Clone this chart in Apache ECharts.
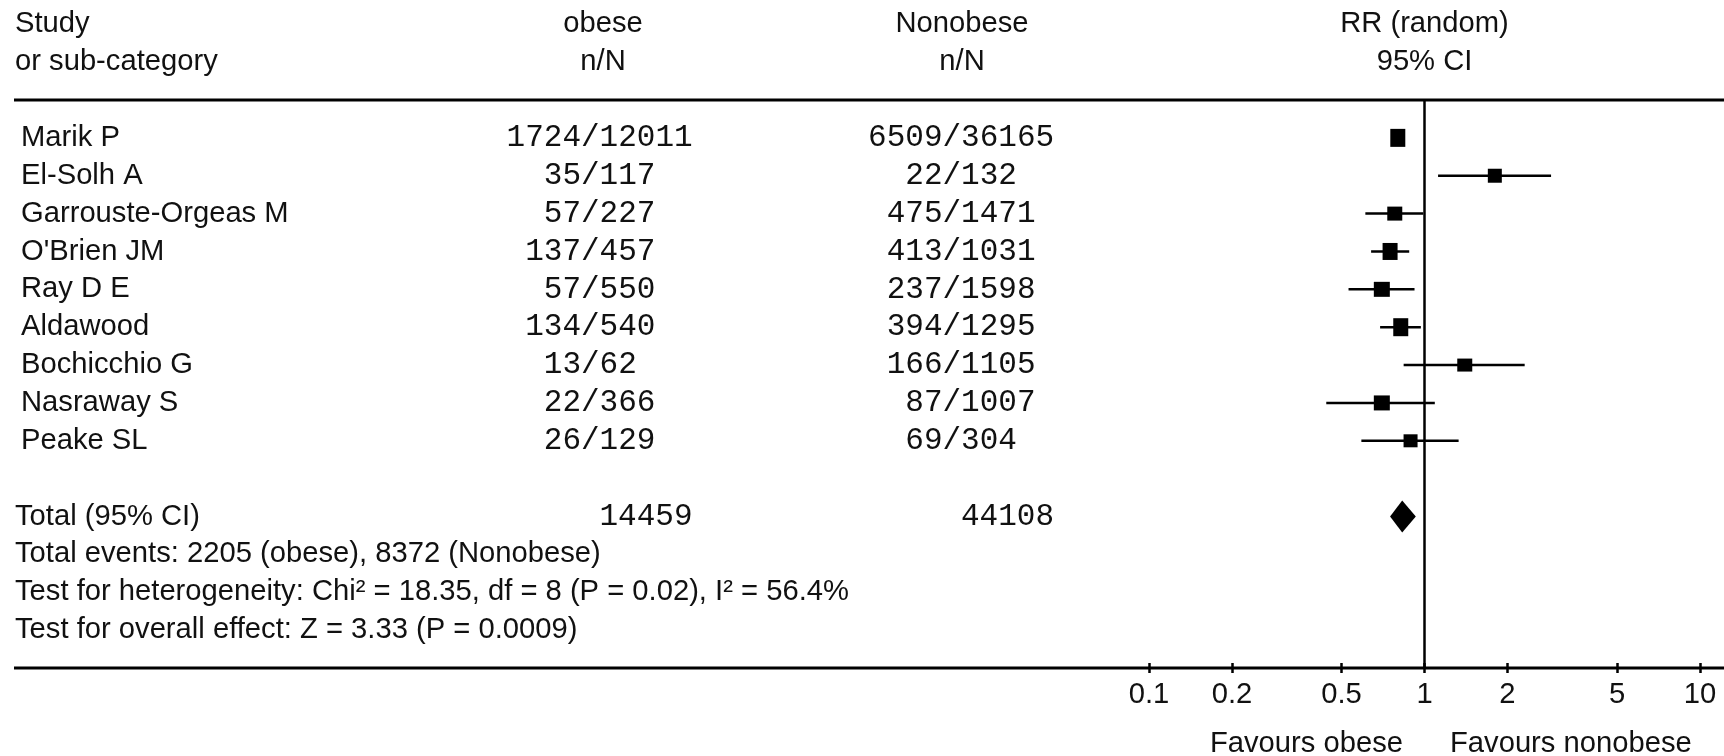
<!DOCTYPE html>
<html>
<head>
<meta charset="utf-8">
<script src="https://cdn.jsdelivr.net/npm/echarts@6/dist/echarts.min.js"></script>
<style>
  html, body { margin: 0; padding: 0; background: #fff; }
  #chart { width: 1724px; height: 756px; }
</style>
</head>
<body>
<div id="chart"></div>
<script>
// ---- data ----
const studies = ['Marik P', 'El-Solh A', 'Garrouste-Orgeas M', "O'Brien JM", 'Ray D E',
                 'Aldawood', 'Bochicchio G', 'Nasraway S', 'Peake SL'];
const obeseEvents    = [1724, 35, 57, 137, 57, 134, 13, 22, 26];
const obeseTotal     = [12011, 117, 227, 457, 550, 540, 62, 366, 129];
const nonobeseEvents = [6509, 22, 475, 413, 237, 394, 166, 87, 69];
const nonobeseTotal  = [36165, 132, 1471, 1031, 1598, 1295, 1105, 1007, 304];
const riskRatio = [0.80, 1.80, 0.78, 0.75, 0.70, 0.82, 1.40, 0.70, 0.89];
const ciLower   = [0.76, 1.12, 0.61, 0.64, 0.53, 0.69, 0.84, 0.44, 0.59];
const ciUpper   = [0.84, 2.88, 0.99, 0.88, 0.92, 0.97, 2.31, 1.09, 1.33];
const pooledRR = [0.83, 0.75, 0.93];          // estimate, lower, upper
const pooledTotals = [14459, 44108];           // obese, nonobese participants
const tickValues = [0.1, 0.2, 0.5, 1, 2, 5, 10];
const headerLeft = ['Study', 'or sub-category'];
const headerObese = ['obese', 'n/N'];
const headerNonobese = ['Nonobese', 'n/N'];
const headerEffect = ['RR (random)', '95% CI'];
const totalLabel = 'Total (95% CI)';
const summaryLines = [
  'Total events: 2205 (obese), 8372 (Nonobese)',
  'Test for heterogeneity: Chi\u00B2 = 18.35, df = 8 (P = 0.02), I\u00B2 = 56.4%',
  'Test for overall effect: Z = 3.33 (P = 0.0009)'
];
const favourLabels = ['Favours obese', 'Favours nonobese'];

// ---- layout / style ----
const SANS = "'Liberation Sans', Arial, sans-serif";
const MONO = "'Liberation Mono', 'Courier New', monospace";
const FS = 29.2;
const MONO_FS = 31;
const INK = '#111';
const BOX = [[15, 18], [14, 14], [15, 14], [15, 17], [16, 15], [15, 18], [15, 13], [16, 15], [14, 13]];
const DIAMOND_HALF_H = 16;
const COL = { name: 21, text: 15, obeseSlash: 581, obeseEnd: 692.5, nonSlash: 942.5, nonEnd: 1054,
              obeseHead: 603, nonHead: 962 };
const TOTAL_ROW = 10;

const chart = echarts.init(document.getElementById('chart'), null, { renderer: 'canvas' });

const studyData = studies.map((_, i) => [riskRatio[i], ciLower[i], ciUpper[i], i]);

const logAxis = (inside, labels) => ({
  type: 'log', logBase: 10, min: 0.1, max: 10, position: 'bottom',
  axisLine: { show: false, onZero: false },
  splitLine: { show: false },
  minorTick: { show: false },
  axisTick: { show: true, inside, length: 5, customValues: tickValues,
              lineStyle: { color: '#000', width: 2.5 } },
  axisLabel: labels
    ? { show: true, customValues: tickValues, margin: 12,
        fontFamily: SANS, fontSize: FS, color: INK,
        formatter: v => String(+v.toPrecision(3)) }
    : { show: false }
});

const option = {
  backgroundColor: '#fff',
  animation: false,
  grid: { left: 1149, right: 24, top: 100, bottom: 88, containLabel: false },
  xAxis: [logAxis(false, true), logAxis(true, false)],
  yAxis: {
    type: 'value', inverse: true, min: -1, max: 14, show: false
  },
  series: [
    {
      // line of no effect
      type: 'line', silent: true, symbol: 'none',
      data: [[1, -1], [1, 14]],
      lineStyle: { color: '#000', width: 2.5 }
    },
    {
      type: 'custom', silent: true,
      data: studyData,
      encode: { x: [0, 1, 2], y: 3 },
      renderItem: (params, api) => {
        const row = api.value(3);
        const c = api.coord([api.value(0), row]);
        const lo = api.coord([api.value(1), row]);
        const hi = api.coord([api.value(2), row]);
        const [w, h] = BOX[params.dataIndex];
        return {
          type: 'group',
          children: [
            { type: 'line', shape: { x1: lo[0], y1: c[1], x2: hi[0], y2: c[1] },
              style: { stroke: '#000', lineWidth: 2.5 } },
            { type: 'rect', shape: { x: c[0] - w / 2, y: c[1] - h / 2, width: w, height: h },
              style: { fill: '#000' } }
          ]
        };
      }
    },
    {
      type: 'custom', silent: true,
      data: [[pooledRR[0], pooledRR[1], pooledRR[2], TOTAL_ROW]],
      encode: { x: [0, 1, 2], y: 3 },
      renderItem: (params, api) => {
        const row = api.value(3);
        const c = api.coord([api.value(0), row]);
        const lo = api.coord([api.value(1), row]);
        const hi = api.coord([api.value(2), row]);
        return {
          type: 'polygon',
          shape: { points: [[lo[0], c[1]], [c[0], c[1] - DIAMOND_HALF_H],
                            [hi[0], c[1]], [c[0], c[1] + DIAMOND_HALF_H]] },
          style: { fill: '#000' }
        };
      }
    }
  ]
};
chart.setOption(option);

// ---- table text, placed on the shared row scale ----
const rowY = r => chart.convertToPixel({ yAxisIndex: 0 }, r);
const nullX = chart.convertToPixel({ xAxisIndex: 0 }, 1);
const txt = (text, x, y, align, font, size) => ({
  type: 'text', silent: true,
  style: { text, x, y, align: align || 'left', verticalAlign: 'middle',
           fontFamily: font || SANS, fontSize: size || FS, fill: INK }
});

const g = [];
headerLeft.forEach((t, i) => g.push(txt(t, COL.text, rowY(-3 + i))));
headerObese.forEach((t, i) => g.push(txt(t, COL.obeseHead, rowY(-3 + i), 'center')));
headerNonobese.forEach((t, i) => g.push(txt(t, COL.nonHead, rowY(-3 + i), 'center')));
headerEffect.forEach((t, i) => g.push(txt(t, nullX, rowY(-3 + i), 'center')));

studies.forEach((s, i) => {
  const y = rowY(i);
  g.push(txt(s, COL.name, y));
  g.push(txt(String(obeseEvents[i]), COL.obeseSlash, y, 'right', MONO, MONO_FS));
  g.push(txt('/' + obeseTotal[i], COL.obeseSlash, y, 'left', MONO, MONO_FS));
  g.push(txt(String(nonobeseEvents[i]), COL.nonSlash, y, 'right', MONO, MONO_FS));
  g.push(txt('/' + nonobeseTotal[i], COL.nonSlash, y, 'left', MONO, MONO_FS));
});

g.push(txt(totalLabel, COL.text, rowY(TOTAL_ROW)));
g.push(txt(String(pooledTotals[0]), COL.obeseEnd, rowY(TOTAL_ROW), 'right', MONO, MONO_FS));
g.push(txt(String(pooledTotals[1]), COL.nonEnd, rowY(TOTAL_ROW), 'right', MONO, MONO_FS));
summaryLines.forEach((t, i) => g.push(txt(t, COL.text, rowY(TOTAL_ROW + 1 + i))));

// horizontal rules above the studies and along the effect axis
[-1, 14].forEach(r => {
  const y = rowY(r);
  g.push({ type: 'line', silent: true, shape: { x1: 14, y1: y, x2: 1724, y2: y },
           style: { stroke: '#000', lineWidth: 3 } });
});

g.push(txt(favourLabels[0], nullX - 21.5, rowY(16), 'right'));
g.push(txt(favourLabels[1], nullX + 25.5, rowY(16), 'left'));

chart.setOption({ graphic: g });
</script>
</body>
</html>
